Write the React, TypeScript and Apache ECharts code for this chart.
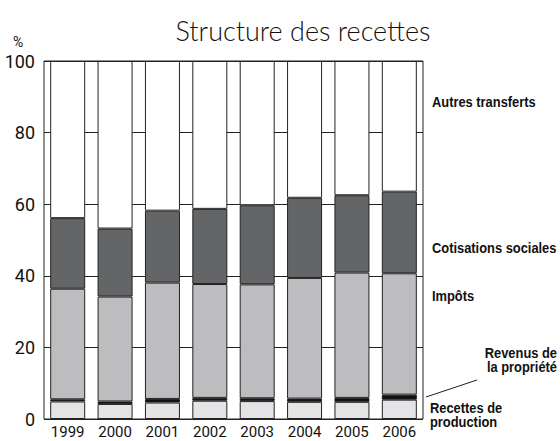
import React, { useEffect, useRef } from "react";
import * as echarts from "echarts";

const years = ["1999", "2000", "2001", "2002", "2003", "2004", "2005", "2006"];
// Shares in % (stacked from bottom)
const recettesProduction = [4.9, 4.2, 4.6, 5.1, 5.0, 4.8, 4.8, 5.4];
const revenusPropriete = [0.6, 0.7, 1.0, 0.8, 0.8, 0.9, 1.1, 1.4];
const impots = [30.9, 29.3, 32.5, 31.8, 31.8, 33.7, 35.0, 33.9];
const cotisationsSociales = [19.7, 19.0, 20.1, 21.0, 22.1, 22.4, 21.6, 22.8];
const autresTransferts = [43.9, 46.8, 41.8, 41.3, 40.3, 38.2, 37.5, 36.5];
const yTicks = [0, 20, 40, 60, 80, 100];

const FONT = 'Roboto, "Liberation Sans", sans-serif';
const LABEL_FONT = '"Liberation Sans", Arial, sans-serif';

export default function App() {
  const ref = useRef<HTMLDivElement>(null);
  useEffect(() => {
    if (!ref.current) return;
    const chart = echarts.init(ref.current, undefined, { renderer: "svg" });
    const seriesDef = [
      { name: "Recettes de production", data: recettesProduction, color: "#e4e4e6" },
      { name: "Revenus de la propriété", data: revenusPropriete, color: "#111111" },
      { name: "Impôts", data: impots, color: "#bdbdbf" },
      { name: "Cotisations sociales", data: cotisationsSociales, color: "#646567" },
      { name: "Autres transferts", data: autresTransferts, color: "#ffffff" },
    ];
    const lbl = (text: string, x: number, y: number, extra: any = {}) => ({
      type: "text",
      x,
      y,
      scaleX: 0.92,
      style: {
        text,
        fontFamily: LABEL_FONT,
        fontWeight: "bold",
        fontSize: 14,
        lineHeight: 14,
        fill: "#111",
        verticalAlign: "middle",
        ...extra,
      },
    });
    chart.setOption({
      animation: false,
      backgroundColor: "#ffffff",
      title: {
        text: "Structure des recettes",
        left: 298,
        top: 12,
        textAlign: "center",
        textStyle: { fontFamily: "Lato, sans-serif", fontWeight: 300, fontSize: 27, color: "#111" },
      },
      grid: {
        left: 44,
        right: 137,
        top: 61,
        bottom: 22,
        show: true,
        borderColor: "#222",
        borderWidth: 1,
        backgroundColor: "transparent",
      },
      xAxis: {
        type: "category",
        data: years,
        axisLine: { show: false },
        axisTick: { show: false },
        axisLabel: { fontFamily: FONT, fontSize: 15, color: "#111", margin: 5, interval: 0 },
      },
      yAxis: {
        type: "value",
        min: yTicks[0],
        max: yTicks[yTicks.length - 1],
        interval: 20,
        axisLine: { show: false },
        axisTick: { show: false },
        axisLabel: { fontFamily: FONT, fontSize: 18, color: "#111", margin: 9 },
        splitLine: { show: true, lineStyle: { color: "#222", width: 1 } },
      },
      series: seriesDef.map((s) => ({
        name: s.name,
        type: "bar",
        stack: "total",
        barWidth: 35,
        data: s.data,
        itemStyle: { color: s.color, borderColor: "#222", borderWidth: 1 },
      })),
      graphic: [
        {
          type: "text",
          x: 13,
          y: 35,
          style: { text: "%", fontFamily: FONT, fontSize: 14, fill: "#111" },
        },
        lbl("Autres transferts", 432, 102),
        lbl("Cotisations sociales", 432, 248),
        lbl("Impôts", 432, 296),
        lbl("Revenus de\nla propriété", 557, 346, { align: "right", verticalAlign: "top" }),
        {
          type: "line",
          shape: { x1: 426, y1: 397, x2: 477, y2: 380 },
          style: { stroke: "#222", lineWidth: 1 },
        },
        lbl("Recettes de\nproduction", 430, 401, { verticalAlign: "top" }),
      ],
    });
    return () => chart.dispose();
  }, []);
  return <div ref={ref} style={{ width: 560, height: 441, position: "absolute", left: 0, top: 0 }} />;
}
